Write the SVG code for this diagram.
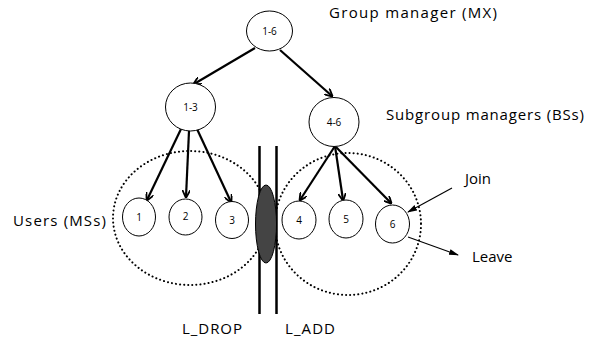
<svg xmlns="http://www.w3.org/2000/svg" width="596" height="341" viewBox="0 0 596 341">
<style>
.node{fill:#fff;stroke:#000;stroke-width:1}
.lbl{font-family:"Open Sans","Liberation Sans",sans-serif;font-size:10px;text-anchor:middle;fill:#000}
.txt{font-family:"Open Sans","Liberation Sans",sans-serif;font-size:15px;fill:#000}
.arr{stroke:#000;stroke-width:2.2;fill:none;marker-end:url(#ah)}
.thin{stroke:#000;stroke-width:1.1;fill:none;marker-end:url(#ahs)}
.dot{fill:none;stroke:#000;stroke-width:2;stroke-dasharray:0.1 4;stroke-linecap:round}
</style>
<defs>
<marker id="ah" markerWidth="8" markerHeight="8" refX="7" refY="4" orient="auto" markerUnits="userSpaceOnUse" viewBox="0 0 8 8">
<path d="M0,0 L8,4 L0,8" fill="none" stroke="#000" stroke-width="1.8"/>
</marker>
<marker id="ahs" markerWidth="10" markerHeight="8" refX="9" refY="4" orient="auto" markerUnits="userSpaceOnUse" viewBox="0 0 10 8">
<path d="M0,1 L10,4 L0,7 Z" fill="#000"/>
</marker>
</defs>
<g id="regions">
<ellipse class="dot" cx="190" cy="218" rx="77" ry="67"/>
<ellipse class="dot" cx="348" cy="224" rx="73" ry="71"/>
</g>
<g id="boundaries">
<line x1="259.5" y1="146" x2="259.5" y2="314" stroke="#000" stroke-width="2.5"/>
<line x1="276.5" y1="146" x2="276.5" y2="314" stroke="#000" stroke-width="2.5"/>
<ellipse cx="266" cy="224" rx="10.5" ry="39" fill="#444" stroke="#000" stroke-width="1"/>
</g>
<g id="connectors">
<line class="arr" x1="255" y1="48" x2="194" y2="84"/>
<line class="arr" x1="280" y1="50" x2="332" y2="96"/>
<line class="arr" x1="181" y1="129" x2="147" y2="200"/>
<line class="arr" x1="189" y1="131" x2="186" y2="197"/>
<line class="arr" x1="197" y1="129" x2="231" y2="202"/>
<line class="arr" x1="335" y1="146" x2="300" y2="200"/>
<line class="arr" x1="335" y1="146" x2="343" y2="200"/>
<line class="arr" x1="335" y1="146" x2="391" y2="203"/>
<line class="thin" x1="452" y1="188" x2="408" y2="212"/>
<line class="thin" x1="408" y1="237" x2="458" y2="255"/>
</g>
<g id="n16"><ellipse class="node" cx="269.5" cy="31" rx="23" ry="20"/><text class="lbl" x="269.5" y="35">1-6</text></g>
<g id="n13"><ellipse class="node" cx="190.5" cy="107" rx="25" ry="24"/><text class="lbl" x="190.5" y="111">1-3</text></g>
<g id="n46"><ellipse class="node" cx="334" cy="122" rx="25" ry="24.5"/><text class="lbl" x="334" y="126">4-6</text></g>
<g id="n1"><ellipse class="node" cx="139" cy="217" rx="16.5" ry="19"/><text class="lbl" x="139" y="221">1</text></g>
<g id="n2"><ellipse class="node" cx="185.5" cy="217" rx="16.5" ry="18"/><text class="lbl" x="185.5" y="220">2</text></g>
<g id="n3"><ellipse class="node" cx="232" cy="220" rx="16.5" ry="18.5"/><text class="lbl" x="232" y="224">3</text></g>
<g id="n4"><ellipse class="node" cx="299" cy="220" rx="17" ry="19"/><text class="lbl" x="299" y="224">4</text></g>
<g id="n5"><ellipse class="node" cx="346" cy="219" rx="17" ry="19"/><text class="lbl" x="346" y="223">5</text></g>
<g id="n6"><ellipse class="node" cx="392.5" cy="224" rx="17" ry="19"/><text class="lbl" x="392.5" y="228">6</text></g>
<g id="labels">
<text class="txt" x="329" y="18" textLength="168" lengthAdjust="spacing">Group manager (MX)</text>
<text class="txt" x="386" y="120" textLength="198" lengthAdjust="spacing">Subgroup managers (BSs)</text>
<text class="txt" x="13" y="226" textLength="93" lengthAdjust="spacing">Users (MSs)</text>
<text class="txt" x="465" y="184">Join</text>
<text class="txt" x="472" y="262">Leave</text>
<text class="txt" x="182" y="334" textLength="60" lengthAdjust="spacing">L_DROP</text>
<text class="txt" x="285" y="334" textLength="50" lengthAdjust="spacing">L_ADD</text>
</g>
</svg>
